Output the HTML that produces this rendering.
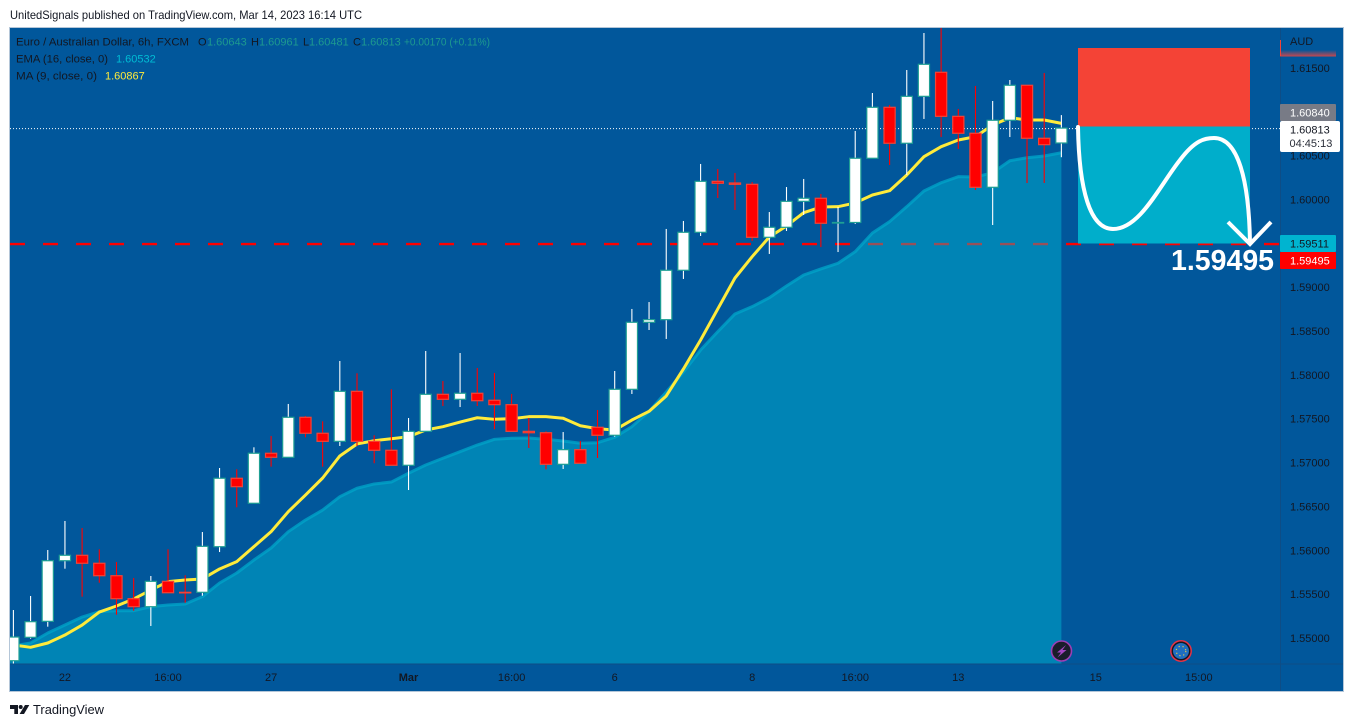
<!DOCTYPE html>
<html lang="en">
<head>
<meta charset="utf-8">
<title>EUR/AUD 6h chart</title>
<style>
html,body{margin:0;padding:0;background:#fff;width:1354px;height:727px;overflow:hidden}
svg{display:block}
text{font-family:"Liberation Sans",sans-serif;font-size:11px;fill:#131722}
</style>
</head>
<body>
<svg id="chart" xmlns="http://www.w3.org/2000/svg" width="1354" height="727" viewBox="0 0 1354 727">
  <defs>
    <clipPath id="pane-clip"><rect x="10" y="28" width="1270" height="636"/></clipPath>
    <linearGradient id="fade" x1="0" y1="0" x2="0" y2="1"><stop offset="0" stop-color="#01579b"/><stop offset="1" stop-color="#c8484f"/></linearGradient>
  </defs>
  <text x="10" y="19" style="font-size:12px" textLength="352" lengthAdjust="spacingAndGlyphs">UnitedSignals published on TradingView.com, Mar 14, 2023 16:14 UTC</text>
  <rect x="9.5" y="27.5" width="1334" height="664" fill="#01579b" stroke="#b4c6d8" stroke-width="1"/>
  <g id="pane" clip-path="url(#pane-clip)"></g>
  <line x1="10" y1="664" x2="1343" y2="664" stroke="#0e4d86" stroke-width="1"/>
  <line x1="1280.5" y1="28" x2="1280.5" y2="691" stroke="#0e4d86" stroke-width="1"/>

  <rect x="1078" y="48" width="172" height="78.5" fill="#f44336"/>
  <rect x="1078" y="126.5" width="172" height="117" fill="#00aecb"/>
  <path d="M1078 127C1079 190 1090 229 1113 229C1140 229 1160 185 1180 160C1195 140 1205 138 1214 138C1238 138 1249 180 1250 243" fill="none" stroke="#fff" stroke-width="4" stroke-linecap="round"/>
  <path d="M1228 222L1250 244L1271 222" fill="none" stroke="#fff" stroke-width="4"/>
  <text x="1171" y="270" style="font-size:28.5px;font-weight:bold;fill:#fff">1.59495</text>

  <g>
    <text x="16" y="45.5" textLength="173" lengthAdjust="spacingAndGlyphs">Euro / Australian Dollar, 6h, FXCM</text>
    <text x="198" y="45.5">O</text>
    <text x="207" y="45.5" style="fill:#1d9a8f">1.60643</text>
    <text x="251" y="45.5">H</text>
    <text x="259" y="45.5" style="fill:#1d9a8f">1.60961</text>
    <text x="303" y="45.5">L</text>
    <text x="309" y="45.5" style="fill:#1d9a8f">1.60481</text>
    <text x="353" y="45.5">C</text>
    <text x="361" y="45.5" style="fill:#1d9a8f">1.60813</text>
    <text x="404" y="45.5" style="fill:#1d9a8f" textLength="86" lengthAdjust="spacingAndGlyphs">+0.00170 (+0.11%)</text>
    <text x="16" y="62.5" textLength="92" lengthAdjust="spacingAndGlyphs">EMA (16, close, 0)</text>
    <text x="116" y="62.5" style="fill:#00bcd4">1.60532</text>
    <text x="16" y="79.5" textLength="81" lengthAdjust="spacingAndGlyphs">MA (9, close, 0)</text>
    <text x="105" y="79.5" style="fill:#ffeb3b">1.60867</text>
  </g>

  <g id="price-axis"></g>
  <text x="1290" y="45">AUD</text>
  <rect x="1280" y="50" width="56" height="6.5" fill="url(#fade)"/>
  <line x1="1280.5" y1="40" x2="1280.5" y2="56" stroke="#f44336" stroke-width="1"/>

  <rect x="1280" y="104" width="56" height="17" rx="1" fill="#787b86"/>
  <text x="1290" y="116.5" style="fill:#fff">1.60840</text>
  <rect x="1280" y="121" width="60" height="31" rx="2" fill="#fff"/>
  <text x="1290" y="133.5">1.60813</text>
  <text x="1289.5" y="147" style="fill:#2a2e39">04:45:13</text>
  <rect x="1280" y="235" width="56" height="17" rx="1" fill="#00b4d0"/>
  <text x="1290" y="247.5">1.59511</text>
  <rect x="1280" y="252" width="56" height="17" rx="1" fill="#ff0000"/>
  <text x="1290" y="264.5" style="fill:#fff">1.59495</text>

  <g id="time-axis"></g>

  <g>
    <circle cx="1061.5" cy="651" r="10" fill="#1a1d2b" stroke="#9c3fb5" stroke-width="1.6"/>
    <path d="M1066 645L1057 652.500H1061L1057.500 657.500L1066.500 650H1062.500Z" fill="#a445c4"/>
  </g>
  <g>
    <circle cx="1181" cy="651" r="10.2" fill="#131722" stroke="#e53345" stroke-width="1.5"/>
    <circle cx="1181" cy="651" r="8" fill="#1f6fc0"/>
    <circle cx="1181" cy="651" r="4.8" fill="none" stroke="#e3c54a" stroke-width="1.2" stroke-dasharray="1.2 2.8"/>
  </g>

  <g>
    <path d="M10 705H18V714H14.300V709H10Z" fill="#131722"/>
    <circle cx="20.700" cy="707" r="2" fill="#131722"/>
    <path d="M25 705H29.300L24 714H19.600Z" fill="#131722"/>
    <text x="33" y="714" style="font-size:13px" textLength="71" lengthAdjust="spacingAndGlyphs">TradingView</text>
  </g>
</svg>

<script>
const openPrices = [
1.54741,1.55008,1.55190,1.55881,1.55943,1.55852,1.55710,1.55448,1.55357,1.55646,
1.55521,1.55521,1.56041,1.56821,1.56536,1.57106,1.57060,1.57516,1.57334,1.57242,
1.57812,1.57242,1.57140,1.56969,1.57356,1.57778,1.57721,1.57790,1.57710,1.57660,
1.57356,1.57340,1.56980,1.57147,1.57402,1.57311,1.57835,1.58599,1.58629,1.59192,
1.59625,1.60206,1.60187,1.60172,1.59568,1.59682,1.59978,1.60013,1.59731,1.59737,
1.60469,1.61050,1.60640,1.61175,1.61449,1.60947,1.60754,1.60138,1.60902,1.61301,
1.60697,1.60643];
const highPrices = [
1.55319,1.55479,1.56003,1.56334,1.56254,1.56011,1.55866,1.55684,1.55707,1.56011,
1.55715,1.56208,1.56938,1.56923,1.57174,1.57303,1.57668,1.57531,1.57470,1.58158,
1.58018,1.57311,1.57835,1.57508,1.58272,1.57930,1.58249,1.58078,1.58021,1.57782,
1.57508,1.57356,1.57348,1.57246,1.57599,1.58044,1.58751,1.58830,1.59663,1.59754,
1.60404,1.60347,1.60301,1.60198,1.59856,1.60141,1.60233,1.60062,1.59913,1.60780,
1.61213,1.61076,1.61475,1.61897,1.61965,1.61031,1.61293,1.61122,1.61361,1.61301,
1.61441,1.60961];
const lowPrices = [
1.54704,1.54992,1.55129,1.55790,1.55471,1.55630,1.55266,1.55311,1.55137,1.55516,
1.55402,1.55482,1.55980,1.56490,1.56536,1.56953,1.57060,1.57288,1.56953,1.57189,
1.57189,1.56992,1.56969,1.56687,1.57356,1.57645,1.57633,1.57645,1.57379,1.57356,
1.57166,1.56923,1.56927,1.56992,1.57052,1.57295,1.57782,1.58511,1.58409,1.59093,
1.59583,1.60016,1.59879,1.59526,1.59378,1.59640,1.59822,1.59457,1.59400,1.59720,
1.60469,1.60392,1.60278,1.60917,1.60711,1.60575,1.60107,1.59708,1.60711,1.60187,
1.60187,1.60481];
const closePrices = [
1.55011,1.55186,1.55881,1.55943,1.55852,1.55710,1.55448,1.55357,1.55646,1.55516,
1.55516,1.56045,1.56821,1.56725,1.57106,1.57060,1.57516,1.57334,1.57242,1.57812,
1.57242,1.57140,1.56969,1.57356,1.57778,1.57721,1.57790,1.57705,1.57660,1.57356,
1.57340,1.56980,1.57147,1.56992,1.57311,1.57835,1.58599,1.58629,1.59192,1.59625,
1.60206,1.60184,1.60172,1.59568,1.59682,1.59978,1.60013,1.59728,1.59737,1.60469,
1.61050,1.60640,1.61175,1.61540,1.60947,1.60754,1.60138,1.60902,1.61301,1.60697,
1.60624,1.60813];
const maValues = [
1.54920,1.54894,1.54943,1.55034,1.55148,1.55296,1.55365,1.55445,1.55547,1.55642,
1.55661,1.55673,1.55787,1.55870,1.56041,1.56212,1.56440,1.56630,1.56824,1.57075,
1.57212,1.57249,1.57272,1.57295,1.57371,1.57409,1.57462,1.57511,1.57493,1.57500,
1.57523,1.57523,1.57505,1.57420,1.57386,1.57371,1.57485,1.57584,1.57759,1.58067,
1.58397,1.58751,1.59104,1.59347,1.59571,1.59697,1.59848,1.59913,1.59917,1.59960,
1.60050,1.60099,1.60278,1.60487,1.60601,1.60677,1.60715,1.60848,1.60931,1.60905,
1.60905,1.60867];
const emaValues = [
1.54909,1.54943,1.55057,1.55148,1.55239,1.55300,1.55311,1.55311,1.55357,1.55376,
1.55388,1.55471,1.55627,1.55741,1.55889,1.56026,1.56212,1.56345,1.56459,1.56611,
1.56707,1.56756,1.56778,1.56878,1.56972,1.57049,1.57124,1.57200,1.57265,1.57277,
1.57280,1.57265,1.57246,1.57220,1.57226,1.57288,1.57409,1.57584,1.57804,1.58032,
1.58283,1.58492,1.58694,1.58777,1.58879,1.59013,1.59138,1.59207,1.59272,1.59404,
1.59617,1.59746,1.59917,1.60096,1.60190,1.60259,1.60255,1.60304,1.60441,1.60475,
1.60495,1.60532];
const priceTicks = [1.615,1.605,1.6,1.59,1.585,1.58,1.575,1.57,1.565,1.56,1.555,1.55];
const timeLabels = ["22","16:00","27","Mar","16:00","6","8","16:00","13","15","15:00"];
const timeLabelBars = [3,9,15,23,29,35,43,49,55,63,69];
const lastPrice = 1.60813;
const targetPrice = 1.59495;

const NS = 'http://www.w3.org/2000/svg';
function xScale(i){ return 13.4 + i * 17.18; }
function yScale(p){ return 638 - (p - 1.55) * 8772; }
function make(parent, tag, attrs){
  const n = document.createElementNS(NS, tag);
  for (const k in attrs) n.setAttribute(k, attrs[k]);
  parent.appendChild(n);
  return n;
}
const pane = document.getElementById('pane');
const priceAxis = document.getElementById('price-axis');
const timeAxis = document.getElementById('time-axis');

const targetLine = make(pane, 'line', {x1:10, x2:1280, y1:yScale(targetPrice)+0.4, y2:yScale(targetPrice)+0.4, stroke:'#ff0000', 'stroke-width':2.4, 'stroke-dasharray':'15 18'});



const lastLine = make(pane, 'line', {x1:10, x2:1280, y1:yScale(lastPrice)+0.5, y2:yScale(lastPrice)+0.5, stroke:'#ffffff', 'stroke-width':1, 'stroke-dasharray':'1 2'});



const emaPts = emaValues.map(function(v, i){ return xScale(i).toFixed(2) + ' ' + yScale(v).toFixed(2); });
const lastX = xScale(emaValues.length - 1).toFixed(2);
const emaStartY = yScale(emaValues[0]).toFixed(2);
const emaArea = make(pane, 'path', {d:'M0 664L0 ' + emaStartY + 'L' + emaPts.join('L') + 'L' + lastX + ' 664Z', fill:'rgb(0,200,220)', 'fill-opacity':0.4});



const emaLine = make(pane, 'path', {d:'M0 ' + emaStartY + 'L' + emaPts.join('L'), fill:'none', stroke:'#00a5c9', 'stroke-opacity':0.75, 'stroke-width':3, 'stroke-linejoin':'round'});



const maPts = maValues.map(function(v, i){ return xScale(i).toFixed(2) + ' ' + yScale(v).toFixed(2); });
const maLine = make(pane, 'path', {d:'M0 ' + yScale(maValues[0]).toFixed(2) + 'L' + maPts.join('L'), fill:'none', stroke:'#ffeb3b', 'stroke-width':3, 'stroke-linejoin':'round'});



openPrices.forEach(function(o, i){
  const c = closePrices[i];
  const up = c >= o;
  const cx = xScale(i);
  const wick = make(pane, 'line', {x1:cx, x2:cx, y1:yScale(highPrices[i]), y2:yScale(lowPrices[i]), stroke: up ? '#ffffff' : '#ff0000', 'stroke-width':1.1});
  
  
  const top = yScale(Math.max(o, c));
  const bottom = yScale(Math.min(o, c));
  const body = make(pane, 'rect', {x:cx - 5.6, y:top, width:11.2, height:Math.max(bottom - top, 0.6), fill: up ? '#ffffff' : '#ff0000', stroke: up ? '#1f9f94' : '#f44336', 'stroke-width':1.2});
  
  
});

priceTicks.forEach(function(p){
  const t = make(priceAxis, 'text', {x:1290, y:yScale(p) + 4});
  
  
  t.textContent = p.toFixed(5);
});

timeLabels.forEach(function(label, i){
  const t = make(timeAxis, 'text', {x:xScale(timeLabelBars[i]), y:681, 'text-anchor':'middle'});
  
  
  if (label === 'Mar') t.setAttribute('style', 'font-weight:bold');
  t.textContent = label;
});
</script>
</body>
</html>
